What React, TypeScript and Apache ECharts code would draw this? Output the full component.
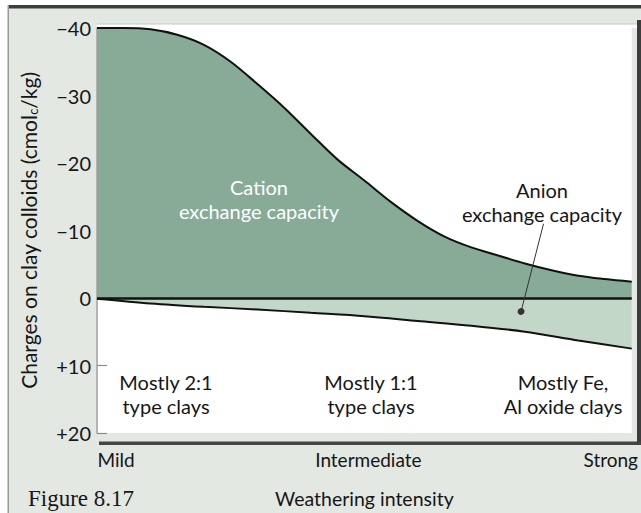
import React, { useEffect, useRef } from "react";
import * as echarts from "echarts";

const xs = [0, 5, 10, 15, 20, 25, 30, 35, 40, 45, 50, 55, 60, 65, 70, 75, 80, 85, 90, 95, 100];
const cecValues = [-40, -40, -39.8, -39.0, -37.5, -35.0, -31.7, -28.2, -24.3, -20.5, -17.4, -14.2, -11.4, -9.1, -7.5, -6.3, -5.1, -4.1, -3.3, -2.8, -2.4];
const aecX = [0, 10, 20, 30, 40, 50, 60, 70, 80, 90, 100];
const aecValues = [0.1, 0.8, 1.3, 1.7, 2.2, 2.7, 3.4, 4.1, 5.0, 6.3, 7.5];
const xTickLabels: Record<number, string> = { 0: "Mild", 50: "Intermediate", 100: "Strong" };
const anionPointer = { from: [83.5, -11], to: [79.3, 2.0] };

const SANS = "Lato, 'Open Sans', sans-serif";
const INK = "#161616";

export default function App() {
  const ref = useRef<HTMLDivElement>(null);
  useEffect(() => {
    if (!ref.current) return;
    const chart = echarts.init(ref.current, null, { renderer: "svg" });
    const note = (x: number, y: number, text: string, fill: string) => ({
      type: "text",
      x,
      y,
      z: 100,
      style: {
        text,
        fill,
        font: `20px ${SANS}`,
        align: "center",
        verticalAlign: "middle",
        lineHeight: 24,
      },
    });
    chart.setOption({
      animation: false,
      backgroundColor: "#ffffff",
      grid: {
        left: 97,
        top: 28,
        width: 540,
        height: 414,
        show: true,
        backgroundColor: "#ffffff",
        borderWidth: 0,
      },
      xAxis: {
        type: "value",
        min: 0,
        max: 100,
        interval: 50,
        axisLine: { show: false },
        axisTick: { show: false },
        splitLine: { show: false },
        axisLabel: {
          margin: 17,
          color: INK,
          fontFamily: SANS,
          fontSize: 19,
          formatter: (v: number) => {
            const t = xTickLabels[v] ?? "";
            if (v === 0) return `{a|${t}}`;
            if (v === 100) return `{c|${t}}`;
            return `{b|${t}}`;
          },
          rich: {
            a: { fontFamily: SANS, fontSize: 19, color: INK, padding: [0, 0, 0, 38] },
            b: { fontFamily: SANS, fontSize: 19, color: INK, padding: [0, 0, 0, 8] },
            c: { fontFamily: SANS, fontSize: 19, color: INK, padding: [0, 42, 0, 0] },
          },
        },
        name: "Weathering intensity",
        nameLocation: "middle",
        nameGap: 55,
        nameTextStyle: { fontFamily: SANS, fontSize: 19.5, color: INK },
      },
      yAxis: {
        type: "value",
        min: -40,
        max: 20,
        interval: 10,
        inverse: true,
        axisLine: { show: true, lineStyle: { color: "#a0a0a0", width: 1.5 } },
        axisTick: { show: true, inside: true, length: 10, lineStyle: { color: "#8a8a8a", width: 1.2 } },
        splitLine: { show: false },
        axisLabel: {
          margin: 6,
          color: INK,
          fontFamily: SANS,
          fontSize: 20,
          formatter: (v: number) => (v < 0 ? "\u2212" + Math.abs(v) : v > 0 ? "+" + v : "0"),
        },
        name: "Charges on clay colloids (cmol{s|c}/kg)",
        nameLocation: "middle",
        nameRotate: 90,
        nameGap: 58,
        nameTextStyle: {
          fontFamily: SANS,
          fontSize: 21,
          color: INK,
          rich: { s: { fontFamily: SANS, fontSize: 13, color: INK, verticalAlign: "bottom", padding: [9, 0, 0, 0] } },
        },
      },
      graphic: [
        { type: "rect", z: -10, shape: { x: 8, y: 5, width: 633, height: 508 }, style: { fill: "#e3e8e3" } },
        { type: "rect", z: -9, shape: { x: 8, y: 5, width: 633, height: 3.5 }, style: { fill: "#3e3e3e" } },
        { type: "rect", z: -9, shape: { x: 7.5, y: 5, width: 1.5, height: 508 }, style: { fill: "#9a9a9a" } },
        { type: "rect", z: -8, shape: { x: 97, y: 24, width: 540, height: 4 }, style: { fill: "#ffffff" } },
        { type: "rect", z: -8, shape: { x: 97, y: 23.5, width: 540, height: 1 }, style: { fill: "#c8c8c8" } },
        { type: "rect", z: 50, shape: { x: 637, y: 20, width: 4, height: 425 }, style: { fill: "#3c3c3c" } },
        { type: "rect", z: 50, shape: { x: 99, y: 441.5, width: 542, height: 3.5 }, style: { fill: "#444444" } },
        note(259, 199, "Cation\nexchange capacity", "#ffffff"),
        note(542, 202, "Anion\nexchange capacity", INK),
        note(166, 394, "Mostly 2:1\ntype clays", INK),
        note(371, 394, "Mostly 1:1\ntype clays", INK),
        note(563, 394, "Mostly Fe,\nAl oxide clays", INK),
        {
          type: "text",
          x: 28,
          y: 498,
          z: 100,
          style: {
            text: "Figure 8.17",
            fill: INK,
            font: "23px 'Liberation Serif', serif",
            align: "left",
            verticalAlign: "middle",
          },
        },
      ],
      series: [
        {
          type: "line",
          data: xs.map((x, i) => [x, cecValues[i]]),
          smooth: 0.3,
          symbol: "none",
          z: 3,
          lineStyle: { color: "#111111", width: 2 },
          areaStyle: { color: "#88ab98", opacity: 1 },
          markLine: {
            silent: true,
            symbol: ["none", "none"],
            label: { show: false },
            lineStyle: { color: "#111111", width: 2.5, type: "solid" },
            data: [{ yAxis: 0 }],
          },
        },
        {
          type: "line",
          data: aecX.map((x, i) => [x, aecValues[i]]),
          smooth: 0.3,
          symbol: "none",
          z: 2,
          lineStyle: { color: "#111111", width: 2 },
          areaStyle: { color: "#c3d7c9", opacity: 1 },
          markLine: {
            silent: true,
            symbol: ["none", "circle"],
            symbolSize: 7,
            label: { show: false },
            lineStyle: { color: "#333333", width: 1, type: "solid" },
            itemStyle: { color: "#111111" },
            data: [[{ coord: anionPointer.from }, { coord: anionPointer.to }]],
          },
        },
      ],
    });
    return () => chart.dispose();
  }, []);
  return <div ref={ref} style={{ width: 641, height: 513, position: "absolute", left: 0, top: 0 }} />;
}
